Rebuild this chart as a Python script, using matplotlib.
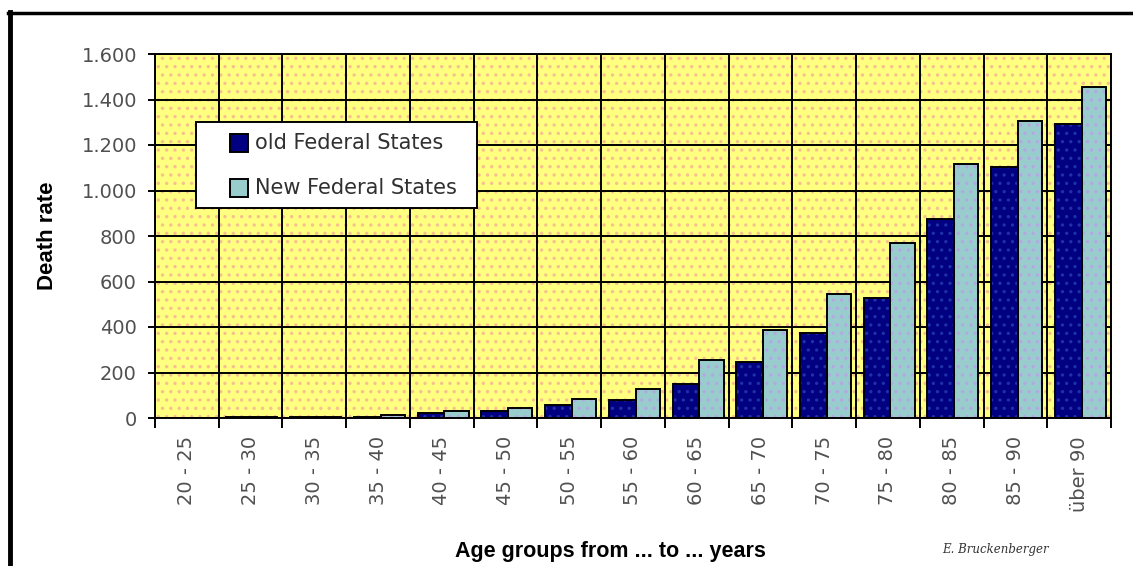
import matplotlib
matplotlib.use("Agg")
import matplotlib.pyplot as plt
from matplotlib.patches import Rectangle
from matplotlib.lines import Line2D
import numpy as np

# Age groups and death rates per 100,000 inhabitants
age_groups = ["20 - 25", "25 - 30", "30 - 35", "35 - 40", "40 - 45", "45 - 50",
              "50 - 55", "55 - 60", "60 - 65", "65 - 70", "70 - 75", "75 - 80",
              "80 - 85", "85 - 90", "über 90"]
old_states = [0, 4, 5, 6, 20, 30, 57, 80, 151, 245, 375, 528, 876, 1104, 1292]
new_states = [0, 3, 5, 12, 30, 45, 82, 126, 256, 388, 547, 771, 1115, 1304, 1455]
series_names = ["old Federal States", "New Federal States"]
y_ticks = [0, 200, 400, 600, 800, 1000, 1200, 1400, 1600]
y_tick_labels = ["0", "200", "400", "600", "800", "1.000", "1.200", "1.400", "1.600"]

OLD_C, NEW_C = "#000080", "#99CCCC"

W, H, DPI = 1133, 566, 100
fig = plt.figure(figsize=(W / DPI, H / DPI), dpi=DPI, facecolor="white")
plt.rcParams["hatch.linewidth"] = 1.2

ax_l, ax_r, ax_t, ax_b = 155, 1111, 54, 418
ax = fig.add_axes([ax_l / W, 1 - ax_b / H, (ax_r - ax_l) / W, (ax_b - ax_t) / H])

def px(xp, yp):
    """figure pixel (from top-left) -> figure fraction"""
    return xp / W, 1 - yp / H

# dotted yellow plot area
ax.patch.set_facecolor("#FFFF80")
ax.add_patch(Rectangle((0, 0), 1, 1, transform=ax.transAxes, facecolor="none",
                       edgecolor="#F6C090", hatch="..", linewidth=0, zorder=0))

x = np.arange(len(age_groups))
w_old, w_new = 0.42, 0.38
x_old = x - 0.17
x_new = x + 0.23

def draw_bars(xs, vals, width, face, dots):
    ax.bar(xs, vals, width, color=face, edgecolor=dots, hatch="..",
           linewidth=0, zorder=3)
    ax.bar(xs, vals, width, facecolor="none", edgecolor="black",
           linewidth=1.4, zorder=4)

draw_bars(x_old, old_states, w_old, OLD_C, "#2030A8")
draw_bars(x_new, new_states, w_new, NEW_C, "#B4A8E4")

ax.set_xlim(-0.5, len(age_groups) - 0.5)
ax.set_ylim(0, 1600)

# grid lines on category boundaries and value ticks
ax.set_yticks(y_ticks)
ax.set_yticklabels(y_tick_labels)
ax.set_xticks(np.arange(len(age_groups) + 1) - 0.5)
ax.set_xticklabels([])
ax.set_xticks(x, minor=True)
ax.set_xticklabels(age_groups, minor=True, rotation=90)
ax.grid(True, which="major", color="black", linewidth=1.4, zorder=1)
ax.set_axisbelow(True)

ax.tick_params(axis="y", which="major", direction="out", length=5, width=1.4,
               pad=8, labelsize=14, labelcolor="#505050")
ax.tick_params(axis="x", which="major", direction="out", length=7, width=1.4)
ax.tick_params(axis="x", which="minor", length=0, pad=13, labelsize=14,
               labelcolor="#505050")
for s in ax.spines.values():
    s.set_color("black")
    s.set_linewidth(1.4)

ax.set_ylabel("Death rate", fontsize=16, fontweight="bold",
              family="Liberation Sans", labelpad=0)
ax.yaxis.set_label_coords(-(ax_l - 58) / (ax_r - ax_l), 0.5)

fig.text(*px(610, 551), "Age groups from ... to ... years", fontsize=15.5,
         fontweight="bold", family="Liberation Sans", ha="center", va="center")
fig.text(*px(995, 549), "E. Bruckenberger", fontsize=8.5, style="italic",
         family="DejaVu Serif", color="#333333", ha="center", va="center")

# legend box with two entries
lx0, ly0, lx1, ly1 = 196, 122, 477, 208
fig.add_artist(Rectangle(px(lx0, ly1), (lx1 - lx0) / W, (ly1 - ly0) / H,
                         transform=fig.transFigure, facecolor="white",
                         edgecolor="black", linewidth=1.4, zorder=10))
for yc, face, name in zip([143, 188], [OLD_C, NEW_C], series_names):
    fig.add_artist(Rectangle(px(230, yc + 9), 18 / W, 18 / H,
                             transform=fig.transFigure, facecolor=face,
                             edgecolor="black", linewidth=1.4, zorder=11))
    fig.text(*px(255, yc), name, fontsize=15, color="#303030",
             ha="left", va="center", zorder=11)

# outer frame: top and left edges
fig.add_artist(Line2D([8 / W, 1], [1 - 13 / H, 1 - 13 / H], color="black",
                      linewidth=2.5, transform=fig.transFigure))
fig.add_artist(Line2D([10.5 / W, 10.5 / W], [0, 1 - 12 / H], color="black",
                      linewidth=3.5, transform=fig.transFigure))

fig.savefig("out.png", dpi=DPI, facecolor="white")
